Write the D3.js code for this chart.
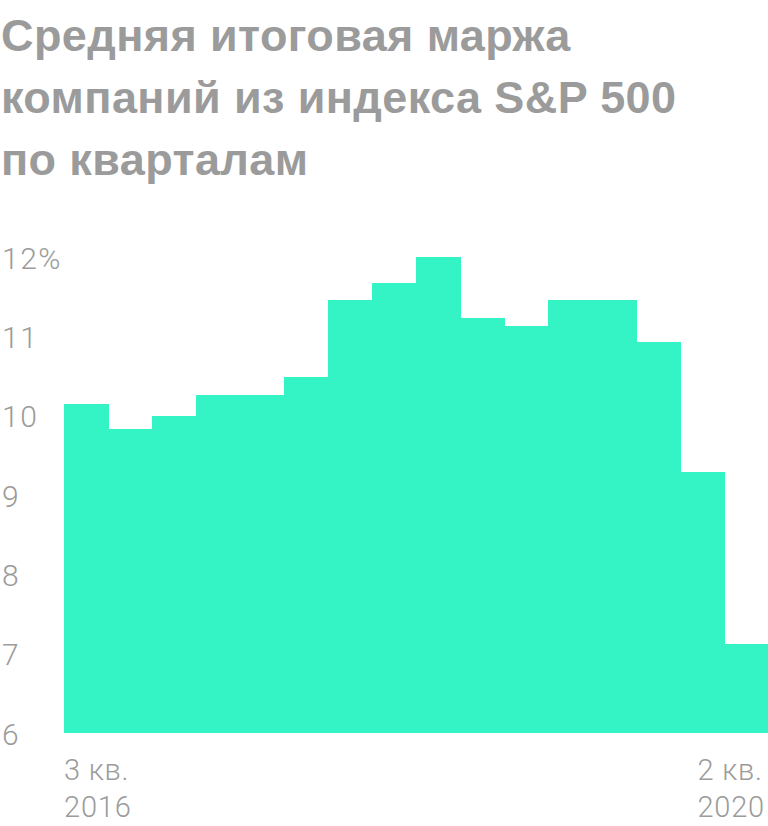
<!DOCTYPE html>
<html>
<head>
<meta charset="utf-8">
<script src="https://cdn.jsdelivr.net/npm/d3@7"></script>
<style>
  body { margin: 0; background: #fff; }
  svg { display: block; }
</style>
</head>
<body>
<div id="chart"></div>
<script>
// data
var titleLines = ["Средняя итоговая маржа", "компаний из индекса S&P 500", "по кварталам"];
var quarters = ["3 кв. 2016", "4 кв. 2016", "1 кв. 2017", "2 кв. 2017", "3 кв. 2017", "4 кв. 2017",
                "1 кв. 2018", "2 кв. 2018", "3 кв. 2018", "4 кв. 2018", "1 кв. 2019", "2 кв. 2019",
                "3 кв. 2019", "4 кв. 2019", "1 кв. 2020", "2 кв. 2020"];
var margin = [10.15, 9.84, 10.0, 10.27, 10.27, 10.49, 11.46, 11.68, 12.0, 11.24, 11.13, 11.46,
              11.46, 10.93, 9.30, 7.13];
var yTicks = [6, 7, 8, 9, 10, 11, 12];
var firstLabel = ["3 кв.", "2016"];
var lastLabel = ["2 кв.", "2020"];

var W = 768, H = 826;
var grey = "#9b9b9b";

var svg = d3.select("#chart").append("svg")
    .attr("width", W)
    .attr("height", H);

// title
svg.append("g").selectAll("text")
    .data(titleLines).enter()
    .append("text")
    .attr("x", 1)
    .attr("y", function(d, i) { return 51 + i * 62; })
    .attr("fill", grey)
    .attr("font-family", "Liberation Sans, Arial, sans-serif")
    .attr("font-weight", "bold")
    .attr("font-size", "45px")
    .style("letter-spacing", "0.4px")
    .text(function(d) { return d; });

var x = d3.scaleBand()
    .domain(quarters)
    .range([64, 768])
    .padding(0);

var y = d3.scaleLinear()
    .domain([6, 12])
    .range([733.3, 257.3]);

// bars
svg.append("g").selectAll("rect")
    .data(margin).enter()
    .append("rect")
    .attr("x", function(d, i) { return x(quarters[i]); })
    .attr("y", function(d) { return y(d); })
    .attr("width", x.bandwidth() + 0.5)
    .attr("height", function(d) { return y(6) - y(d); })
    .attr("fill", "#34f3c5")
    .attr("shape-rendering", "crispEdges");

// y axis, labels only
var yAxis = svg.append("g")
    .call(d3.axisLeft(y)
        .tickValues(yTicks)
        .tickSize(0)
        .tickFormat(function(d) { return d == 12 ? d + "%" : d; }));
yAxis.select(".domain").remove();
yAxis.selectAll("text")
    .attr("x", 2)
    .attr("dy", "0.36em")
    .attr("text-anchor", "start")
    .attr("fill", grey)
    .attr("font-family", "Roboto, sans-serif")
    .attr("font-weight", 300)
    .attr("font-size", "30px")
    .style("letter-spacing", "1.5px");

// x labels, first and last quarter only
function twoLines(lines, xpos) {
  var t = svg.append("text")
      .attr("fill", grey)
      .attr("font-family", "Roboto, sans-serif")
      .attr("font-weight", 300)
      .attr("font-size", "29px")
      .style("letter-spacing", "0.8px");
  t.selectAll("tspan")
      .data(lines).enter()
      .append("tspan")
      .attr("x", xpos)
      .attr("y", function(d, i) { return 780 + i * 37; })
      .text(function(d) { return d; });
  return t;
}

twoLines(firstLabel, x(quarters[0]));
var last = twoLines(lastLabel, 0);
// left aligned block pushed against the right edge
var bb = last.node().getBBox();
last.attr("transform", "translate(" + (765 - bb.width) + ",0)");
</script>
</body>
</html>
